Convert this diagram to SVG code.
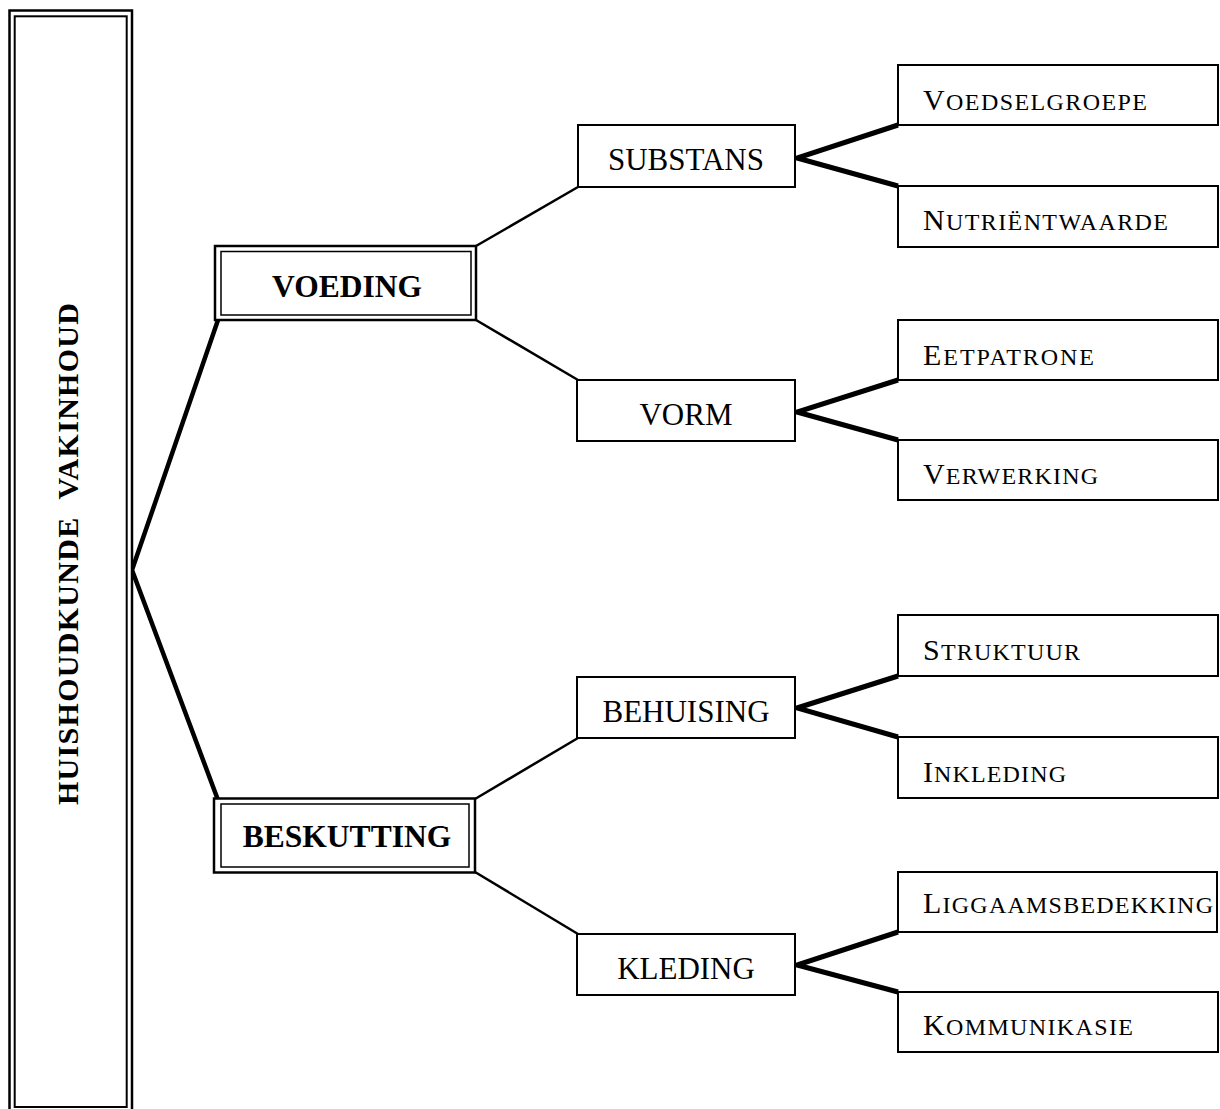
<svg xmlns="http://www.w3.org/2000/svg" width="1220" height="1109" viewBox="0 0 1220 1109">
<style>
.bg{fill:#fff}
.box{fill:#fff;stroke:#000;stroke-width:2}
.dbo{fill:#fff;stroke:#000;stroke-width:2.5}
.dbi{fill:none;stroke:#000;stroke-width:1.5}
.c1{stroke:#000;stroke-width:4.5;fill:none;stroke-linecap:round}
.c2{stroke:#000;stroke-width:2.5;fill:none}
.c3{stroke:#000;stroke-width:5;fill:none;stroke-linejoin:miter}
.t{font-family:"Liberation Serif","Times New Roman",serif;fill:#000}
.b30{font-size:30px;font-weight:bold}
.b31{font-size:31.5px;font-weight:bold}
.r30{font-size:31px}
.big{font-size:30px}
.sm{font-size:24px}
.pre{white-space:pre}
</style>
<rect class="bg" x="0" y="0" width="1220" height="1109"/>
<g id="connectors">
<polyline class="c1" points="218,320 132,570 218,800"/>
<line class="c2" x1="476" y1="246" x2="578" y2="187"/>
<line class="c2" x1="476" y1="320" x2="578" y2="380"/>
<line class="c2" x1="475" y1="799" x2="578" y2="738"/>
<line class="c2" x1="475" y1="872" x2="578" y2="934"/>
<polyline class="c3" points="898,125 797,158 898,186"/>
<polyline class="c3" points="898,380 797,412 898,440"/>
<polyline class="c3" points="898,676 797,708 898,737"/>
<polyline class="c3" points="898,932 797,965 898,992"/>
</g>
<g id="root">
<rect x="9.5" y="10.5" width="122.5" height="1102" fill="#fff" stroke="#000" stroke-width="2.5"/>
<rect x="14.7" y="16.3" width="112" height="1090.7" fill="none" stroke="#000" stroke-width="2"/>
<text class="t b30 pre" transform="translate(78,805) rotate(-90)" textLength="502" lengthAdjust="spacing">HUISHOUDKUNDE  VAKINHOUD</text>
</g>
<g id="voeding">
<rect class="dbo" x="215" y="246" width="261" height="74"/>
<rect class="dbi" x="221" y="251.5" width="250" height="63.5"/>
<text class="t b31" x="347" y="297" text-anchor="middle">VOEDING</text>
</g>
<g id="beskutting">
<rect class="dbo" x="214" y="798.5" width="261" height="74"/>
<rect class="dbi" x="221" y="804" width="248" height="63"/>
<text class="t b31" x="347" y="847" text-anchor="middle">BESKUTTING</text>
</g>
<g id="substans">
<rect class="box" x="578" y="125" width="217" height="62"/>
<text class="t r30" x="686" y="170" text-anchor="middle">SUBSTANS</text>
</g>
<g id="vorm">
<rect class="box" x="577" y="380" width="218" height="61"/>
<text class="t r30" x="686" y="425" text-anchor="middle">VORM</text>
</g>
<g id="behuising">
<rect class="box" x="577" y="677" width="218" height="61"/>
<text class="t r30" x="686" y="722" text-anchor="middle">BEHUISING</text>
</g>
<g id="kleding">
<rect class="box" x="577" y="934" width="218" height="61"/>
<text class="t r30" x="686" y="979" text-anchor="middle">KLEDING</text>
</g>
<g id="voedselgroepe">
<rect class="box" x="898" y="65" width="320" height="60"/>
<text class="t" x="923" y="110" textLength="224" lengthAdjust="spacing"><tspan class="big">V</tspan><tspan class="sm">OEDSELGROEPE</tspan></text>
</g>
<g id="nutrientwaarde">
<rect class="box" x="898" y="186" width="320" height="61"/>
<text class="t" x="923" y="230" textLength="245" lengthAdjust="spacing"><tspan class="big">N</tspan><tspan class="sm">UTRIËNTWAARDE</tspan></text>
</g>
<g id="eetpatrone">
<rect class="box" x="898" y="320" width="320" height="60"/>
<text class="t" x="923" y="365" textLength="171" lengthAdjust="spacing"><tspan class="big">E</tspan><tspan class="sm">ETPATRONE</tspan></text>
</g>
<g id="verwerking">
<rect class="box" x="898" y="440" width="320" height="60"/>
<text class="t" x="923" y="484" textLength="175" lengthAdjust="spacing"><tspan class="big">V</tspan><tspan class="sm">ERWERKING</tspan></text>
</g>
<g id="struktuur">
<rect class="box" x="898" y="615" width="320" height="61"/>
<text class="t" x="923" y="660" textLength="157" lengthAdjust="spacing"><tspan class="big">S</tspan><tspan class="sm">TRUKTUUR</tspan></text>
</g>
<g id="inkleding">
<rect class="box" x="898" y="737" width="320" height="61"/>
<text class="t" x="923" y="782" textLength="143" lengthAdjust="spacing"><tspan class="big">I</tspan><tspan class="sm">NKLEDING</tspan></text>
</g>
<g id="liggaamsbedekking">
<rect class="box" x="898" y="872" width="319" height="60"/>
<text class="t" x="923" y="913" textLength="290" lengthAdjust="spacing"><tspan class="big">L</tspan><tspan class="sm">IGGAAMSBEDEKKING</tspan></text>
</g>
<g id="kommunikasie">
<rect class="box" x="898" y="992" width="320" height="60"/>
<text class="t" x="923" y="1035" textLength="210" lengthAdjust="spacing"><tspan class="big">K</tspan><tspan class="sm">OMMUNIKASIE</tspan></text>
</g>
</svg>
